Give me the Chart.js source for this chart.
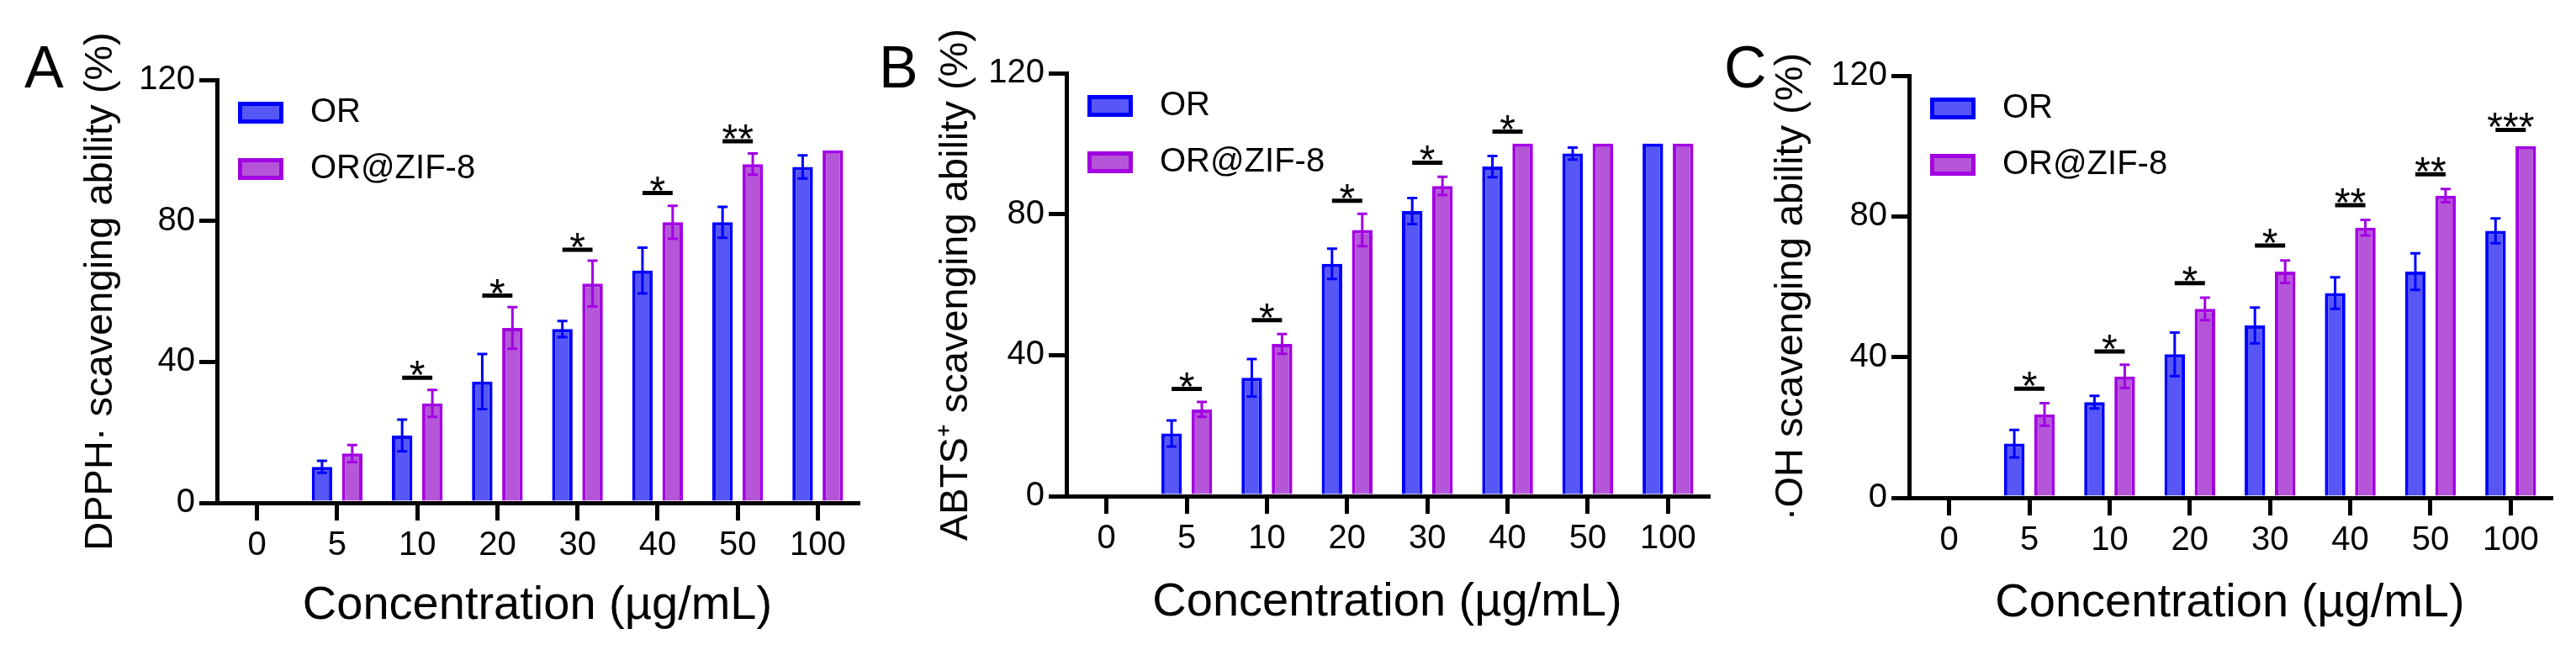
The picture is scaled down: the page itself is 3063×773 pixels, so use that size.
<!DOCTYPE html>
<html>
<head>
<meta charset="utf-8">
<script src="https://cdn.jsdelivr.net/npm/chart.js@4.4.1/dist/chart.umd.min.js"></script>
<style>
  html, body { margin: 0; padding: 0; background: #fff; }
  body { width: 3063px; height: 773px; position: relative; overflow: hidden; }
  canvas { position: absolute; top: 0; }
</style>
</head>
<body>
<canvas id="chartA" width="1030" height="773" style="left:0"></canvas>
<canvas id="chartB" width="1020" height="773" style="left:1030px"></canvas>
<canvas id="chartC" width="1013" height="773" style="left:2050px"></canvas>
<script>
// concentrations on the x axis (µg/mL)
const concentrations = ["0", "5", "10", "20", "30", "40", "50", "100"];
const yTicks = [0, 40, 80, 120];

// A: DPPH
const dpphOR = [0, 10.2, 19.1, 34.4, 49.3, 65.9, 79.6, 95.3];
const dpphORErr = [0, 1.7, 4.5, 7.8, 2.3, 6.5, 4.4, 3.3];
const dpphZIF = [0, 14.0, 28.2, 49.6, 62.2, 79.6, 96.1, 100];
const dpphZIFErr = [0, 2.4, 3.8, 5.9, 6.5, 4.7, 3.0, 0];
const dpphSig = ["", "", "*", "*", "*", "*", "**", ""];
const dpphSigAt = [0, 0, 35.5, 58.8, 71.8, 87.9, 102.6, 0];

// B: ABTS+
const abtsOR = [0, 17.8, 33.6, 65.9, 80.9, 93.5, 97.2, 100];
const abtsORErr = [0, 3.7, 5.3, 4.3, 3.7, 3.0, 1.7, 0];
const abtsZIF = [0, 24.6, 43.2, 75.5, 88.0, 100, 100, 100];
const abtsZIFErr = [0, 2.1, 2.8, 4.6, 2.6, 0, 0, 0];
const abtsSig = ["", "*", "*", "*", "*", "*", "", ""];
const abtsSigAt = [0, 30.4, 49.9, 83.8, 94.6, 103.4, 0, 0];

// C: ·OH
const ohOR = [0, 15.4, 27.2, 40.8, 49.0, 58.2, 64.3, 75.9];
const ohORErr = [0, 3.9, 1.8, 6.2, 5.1, 4.5, 5.2, 3.5];
const ohZIF = [0, 23.7, 34.5, 53.7, 64.3, 76.8, 85.9, 100];
const ohZIFErr = [0, 3.2, 3.3, 3.2, 3.2, 2.2, 1.9, 0];
const ohSig = ["", "*", "*", "*", "*", "**", "**", "***"];
const ohSigAt = [0, 31.0, 41.6, 61.0, 71.7, 83.2, 92.0, 104.6];

const FONT = '"Liberation Sans", Arial, Helvetica, sans-serif';
const BLUE_LINE = "#0000ff";
const BLUE_FILL = "#5757f6";
const PURPLE_LINE = "#a300e2";
const PURPLE_FILL = "#b556d8";

// error bars, significance marks, legend and panel letter
function extras(p) {
  return {
    id: "extras" + p.letter,
    afterDatasetsDraw(chart) {
      const ctx = chart.ctx;
      const y = chart.scales.y;
      chart.data.datasets.forEach((ds, di) => {
        const bars = chart.getDatasetMeta(di).data;
        ctx.save();
        ctx.strokeStyle = ds.borderColor;
        ctx.lineWidth = 3;
        bars.forEach((bar, i) => {
          const e = ds.errors[i];
          if (!e) return;
          const top = y.getPixelForValue(ds.data[i] + e);
          const bot = y.getPixelForValue(ds.data[i] - e);
          ctx.beginPath();
          ctx.moveTo(bar.x, top); ctx.lineTo(bar.x, bot);
          ctx.moveTo(bar.x - 6, top); ctx.lineTo(bar.x + 6, top);
          ctx.moveTo(bar.x - 6, bot); ctx.lineTo(bar.x + 6, bot);
          ctx.stroke();
        });
        ctx.restore();
      });

      const m0 = chart.getDatasetMeta(0).data;
      const m1 = chart.getDatasetMeta(1).data;
      ctx.save();
      ctx.fillStyle = "#000";
      ctx.strokeStyle = "#000";
      ctx.lineWidth = 5;
      ctx.font = "48px " + FONT;
      ctx.textAlign = "center";
      ctx.textBaseline = "alphabetic";
      p.sig.forEach((s, i) => {
        if (!s) return;
        const py = y.getPixelForValue(p.sigAt[i]);
        ctx.beginPath();
        ctx.moveTo(m0[i].x, py);
        ctx.lineTo(m1[i].x, py);
        ctx.stroke();
        ctx.fillText(s, (m0[i].x + m1[i].x) / 2, py + 13);
      });
      ctx.restore();
    },
    afterDraw(chart) {
      const ctx = chart.ctx;
      const area = chart.chartArea;
      ctx.save();
      chart.data.datasets.forEach((ds, i) => {
        const bx = area.left + 25;
        const by = area.top + 26 + i * 67;
        ctx.fillStyle = ds.backgroundColor;
        ctx.fillRect(bx, by, 54, 26);
        ctx.strokeStyle = ds.borderColor;
        ctx.lineWidth = 5;
        ctx.strokeRect(bx + 2.5, by + 2.5, 49, 21);
        ctx.fillStyle = "#000";
        ctx.font = "40px " + FONT;
        ctx.textAlign = "left";
        ctx.textBaseline = "middle";
        ctx.fillText(ds.label, bx + 86, by + 13);
      });
      ctx.font = "70px " + FONT;
      ctx.textBaseline = "alphabetic";
      ctx.fillStyle = "#000";
      ctx.fillText(p.letter, p.letterX, 104);
      ctx.restore();
    }
  };
}

function makeChart(id, p) {
  const tickFont = { family: FONT, size: 40 };
  return new Chart(document.getElementById(id), {
    type: "bar",
    data: {
      labels: concentrations,
      datasets: [
        { label: "OR", data: p.or, errors: p.orErr,
          backgroundColor: BLUE_FILL, borderColor: BLUE_LINE, borderWidth: 4,
          categoryPercentage: 0.754, barPercentage: 0.68 },
        { label: "OR@ZIF-8", data: p.zif, errors: p.zifErr,
          backgroundColor: PURPLE_FILL, borderColor: PURPLE_LINE, borderWidth: 4,
          categoryPercentage: 0.754, barPercentage: 0.68 }
      ]
    },
    options: {
      responsive: false,
      animation: false,
      devicePixelRatio: 1,
      layout: { padding: { left: 0, top: p.top, right: p.padRight, bottom: 0 } },
      plugins: { legend: { display: false }, tooltip: { enabled: false } },
      scales: {
        x: {
          grid: { offset: false, drawOnChartArea: false, tickLength: 21, lineWidth: 5, color: "#000" },
          border: { color: "#000", width: 5 },
          ticks: { font: tickFont, color: "#000", padding: 6 },
          title: { display: true, text: "Concentration (µg/mL)", color: "#000",
                   font: { family: FONT, size: 56, lineHeight: 1 }, padding: { top: 0, bottom: p.xTitlePad } },
          afterFit(s) { s.height = p.xHeight; }
        },
        y: {
          min: 0, max: 120,
          afterBuildTicks(s) { s.ticks = yTicks.map(v => ({ value: v })); },
          grid: { drawOnChartArea: false, tickLength: 21, lineWidth: 5, color: "#000" },
          border: { color: "#000", width: 5 },
          ticks: { font: tickFont, color: "#000", padding: 5 },
          title: { display: true, text: p.yTitle, color: "#000",
                   font: { family: FONT, size: 47, lineHeight: 1 }, padding: { top: p.yTitlePad, bottom: 0 } },
          afterFit(s) { s.width = p.yWidth; }
        }
      }
    },
    plugins: [extras(p)]
  });
}

makeChart("chartA", {
  letter: "A", letterX: 29, or: dpphOR, orErr: dpphORErr, zif: dpphZIF, zifErr: dpphZIFErr,
  sig: dpphSig, sigAt: dpphSigAt, yTitle: "DPPH· scavenging ability (%)",
  top: 95, padRight: 10, yWidth: 258, xHeight: 175, xTitlePad: 24, yTitlePad: 97
});
makeChart("chartB", {
  letter: "B", letterX: 15, or: abtsOR, orErr: abtsORErr, zif: abtsZIF, zifErr: abtsZIFErr,
  sig: abtsSig, sigAt: abtsSigAt, yTitle: "ABTS⁺ scavenging ability (%)",
  top: 87, padRight: 19, yWidth: 238, xHeight: 183, xTitlePad: 28, yTitlePad: 84
});
makeChart("chartC", {
  letter: "C", letterX: 0, or: ohOR, orErr: ohORErr, zif: ohZIF, zifErr: ohZIFErr,
  sig: ohSig, sigAt: ohSigAt, yTitle: "·OH scavenging ability (%)",
  top: 90, padRight: 30, yWidth: 220, xHeight: 181, xTitlePad: 27, yTitlePad: 57
});
</script>
</body>
</html>
